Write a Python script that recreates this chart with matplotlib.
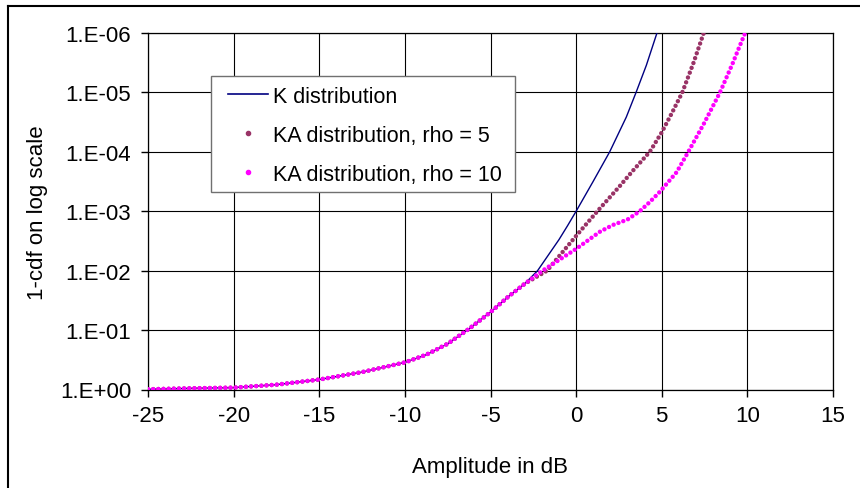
import matplotlib
matplotlib.use("Agg")
import matplotlib.pyplot as plt
from matplotlib.lines import Line2D
from matplotlib.patches import Rectangle

plt.rcParams["font.family"] = ["Liberation Sans", "DejaVu Sans"]

# Shared low-amplitude part of the three 1-cdf curves (they coincide here)
common_db = [-25, -22.5, -20, -17.5, -15, -12.5, -10, -8.75, -7.5, -6.25, -5, -4, -3]
common_p = [0.99, 0.955, 0.93, 0.83, 0.68, 0.51, 0.35, 0.26, 0.17, 0.095, 0.050, 0.028, 0.0166]

# Tails, where the distributions separate
k_tail_db = [-2.25, -1.0, -0.5, 0, 0.98, 1.96, 2.93, 3.5, 4.1, 4.72]
k_tail_p = [1.0e-2, 3.0e-3, 1.75e-3, 1.0e-3, 3.2e-4, 1.0e-4, 2.6e-5, 1.0e-5, 3.5e-6, 1.0e-6]

ka5_tail_db = [-1.7, 0, 1.24, 2.54, 3.3, 4.3, 5.0, 5.6, 6.2, 6.85, 7.45]
ka5_tail_p = [1.0e-2, 2.6e-3, 1.0e-3, 3.8e-4, 2.1e-4, 1.0e-4, 4.7e-5, 2.2e-5, 1.0e-5, 3.2e-6, 1.0e-6]

ka10_tail_db = [-1.96, 0, 1.4, 2.15, 3.0, 3.71, 4.3, 4.89, 5.87, 6.55, 7.45, 8.4, 9.15, 9.5, 9.87]
ka10_tail_p = [1.0e-2, 4.3e-3, 2.2e-3, 1.7e-3, 1.38e-3, 1.0e-3, 7.0e-4, 4.7e-4, 2.2e-4, 1.0e-4,
               3.4e-5, 1.0e-5, 3.2e-6, 1.8e-6, 1.0e-6]

series_labels = ["K distribution", "KA distribution, rho = 5", "KA distribution, rho = 10"]

x_ticks = [-25, -20, -15, -10, -5, 0, 5, 10, 15]
y_ticks = [1, 1e-1, 1e-2, 1e-3, 1e-4, 1e-5, 1e-6]
y_tick_labels = ["1.E+00", "1.E-01", "1.E-02", "1.E-03", "1.E-04", "1.E-05", "1.E-06"]

W, H = 860, 489
FS = 16
LEG_FS = 15.5
fig = plt.figure(figsize=(W / 100, H / 100), dpi=100)
fig.patch.set_facecolor("white")

left, right, top, bottom = 148, 833, 34, 390.5
ax = fig.add_axes([left / W, 1 - bottom / H, (right - left) / W, (bottom - top) / H])

dots = (0, (0.01, 1.15))
ax.plot(common_db + k_tail_db, common_p + k_tail_p, color="#000080", lw=1.0, zorder=3)
ax.plot(common_db + ka5_tail_db, common_p + ka5_tail_p, color="#993366", lw=3.2,
        linestyle=dots, dash_capstyle="round", zorder=4)
ax.plot(common_db + ka10_tail_db, common_p + ka10_tail_p, color="#FF00FF", lw=3.2,
        linestyle=dots, dash_capstyle="round", zorder=5)

ax.set_yscale("log")
ax.set_xlim(-25, 15)
ax.set_ylim(1, 1e-6)
ax.set_xticks(x_ticks)
ax.set_xticklabels([str(v) for v in x_ticks])
ax.set_yticks(y_ticks)
ax.set_yticklabels(y_tick_labels)
ax.minorticks_off()
ax.tick_params(axis="both", direction="out", length=5, width=1, color="black",
               labelsize=FS, labelcolor="black")
ax.tick_params(axis="y", pad=7)
ax.tick_params(axis="x", pad=6)
ax.grid(True, color="black", lw=0.8)
for sp in ax.spines.values():
    sp.set_color("black")
    sp.set_linewidth(0.9)

ax.set_xlabel("Amplitude in dB", fontsize=FS, labelpad=22)
ax.set_ylabel("1-cdf on log scale", fontsize=FS, labelpad=9)

# Legend box
fig.add_artist(Rectangle((211 / W, 1 - 193 / H), (515 - 211) / W, (193 - 77) / H,
                         transform=fig.transFigure, facecolor="white",
                         edgecolor="#707070", lw=1.0, zorder=2))
handles = [
    Line2D([], [], color="#000080", lw=1.2),
    Line2D([], [], color="#993366", marker="o", ms=3, ls="none"),
    Line2D([], [], color="#FF00FF", marker="o", ms=3, ls="none"),
]
leg = fig.legend(handles, series_labels, loc="upper left",
                 bbox_to_anchor=(228 / W, 1 - 87 / H), frameon=False,
                 borderpad=0, handlelength=1.86, handletextpad=0.22,
                 labelspacing=0.83, fontsize=LEG_FS, borderaxespad=0)
leg.set_zorder(6)

# Outer chart frame
fig.add_artist(Line2D([7.5 / W, 1], [1 - 6.5 / H] * 2, transform=fig.transFigure,
                      color="black", lw=1.5))
fig.add_artist(Line2D([7.5 / W] * 2, [0, 1 - 6.5 / H], transform=fig.transFigure,
                      color="black", lw=1.5))

fig.savefig("out.png", dpi=100)
